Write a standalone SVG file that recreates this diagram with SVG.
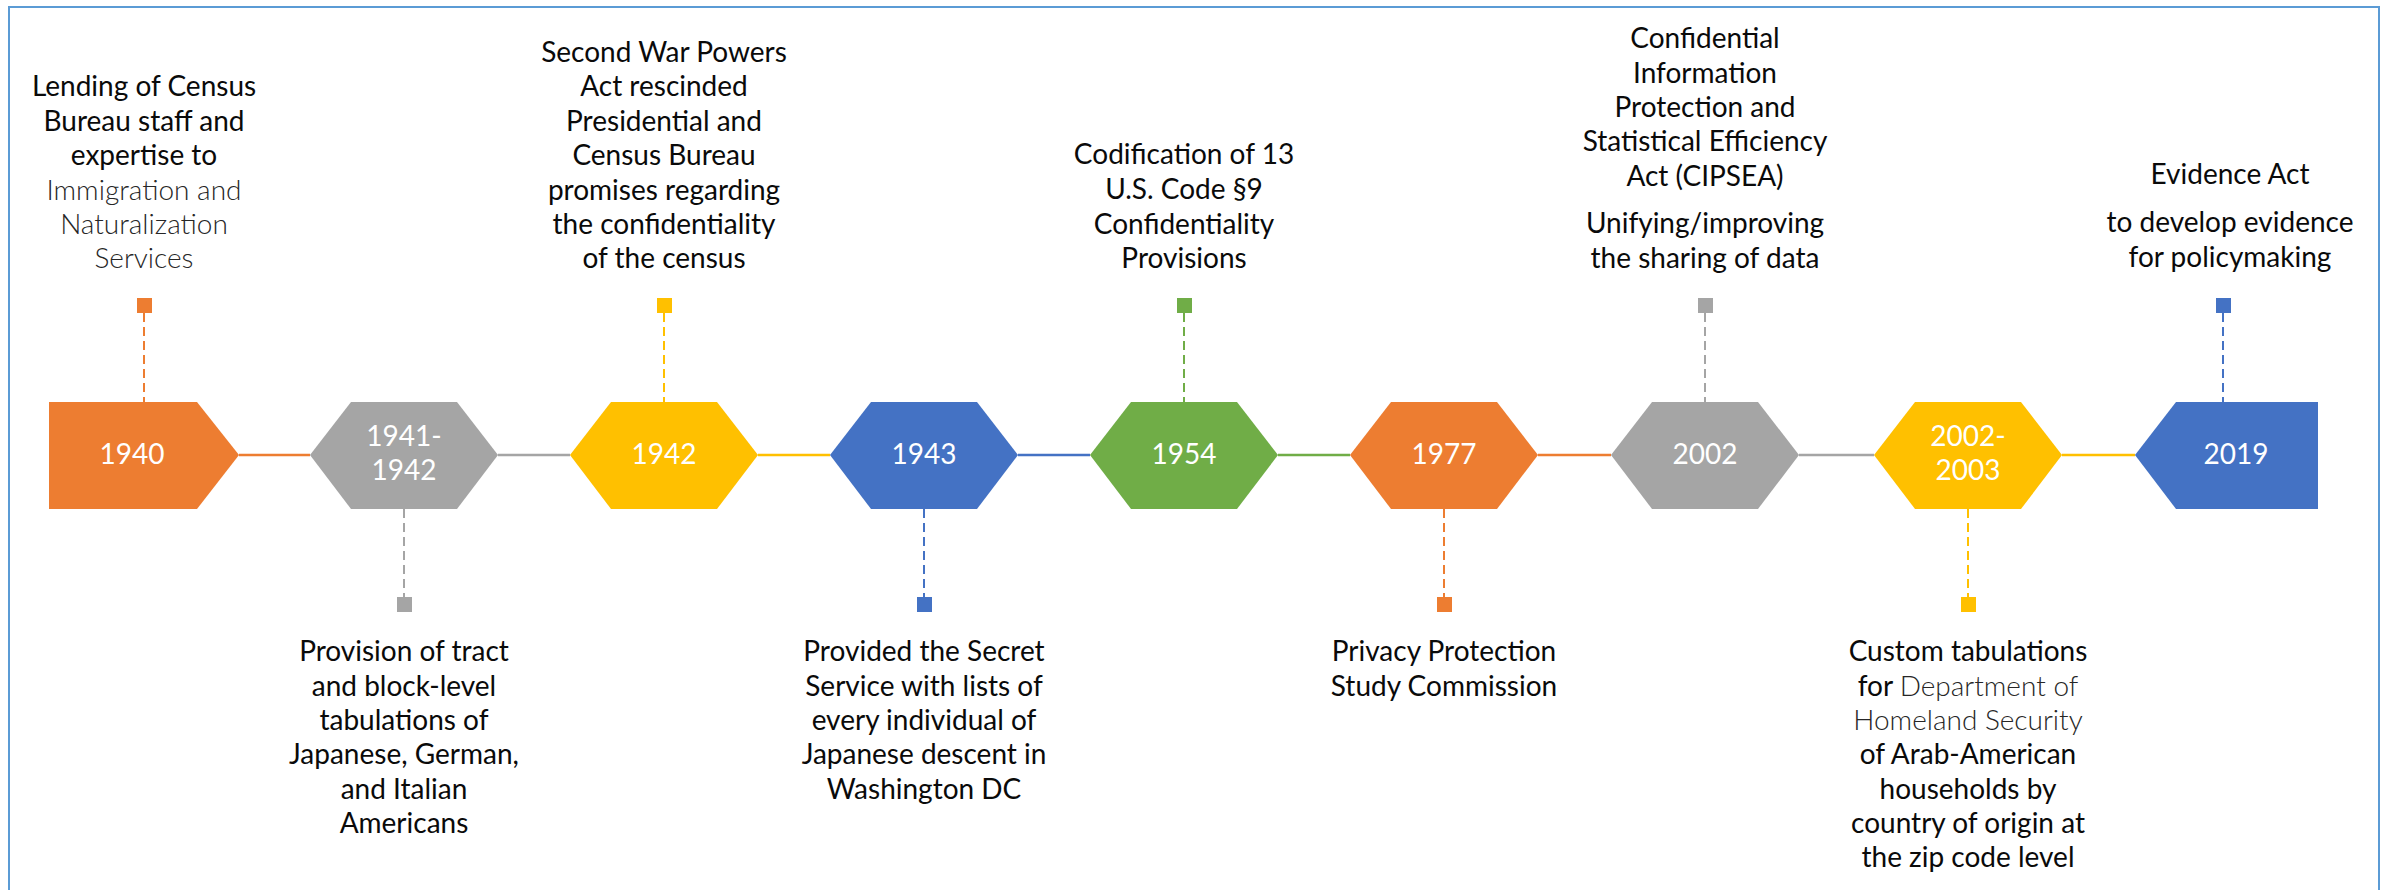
<svg xmlns="http://www.w3.org/2000/svg" width="2389" height="890" viewBox="0 0 2389 890">
<style>
.t{font-family:Lato,"Liberation Sans",sans-serif;font-size:28px;fill:#0a0a0a;text-anchor:middle}
.lt{font-weight:300;fill:#262626}
.yr{font-family:Lato,"Liberation Sans",sans-serif;font-size:28px;fill:#ffffff;text-anchor:middle}
.stem{stroke-width:2;stroke-dasharray:9 5;fill:none}
.ln{stroke-width:2.5;fill:none}
.o{fill:#ED7D31}.g{fill:#A5A5A5}.y{fill:#FFC000}.b{fill:#4472C4}.gr{fill:#70AD47}
.so{stroke:#ED7D31}.sg{stroke:#A5A5A5}.sy{stroke:#FFC000}.sb{stroke:#4472C4}.sgr{stroke:#70AD47}
</style>
<rect x="9" y="7" width="2370" height="900" fill="#ffffff" stroke="#5B9BD5" stroke-width="2"/>
<g id="connectors">
<line class="ln so" x1="239" y1="455" x2="310" y2="455"/>
<line class="ln sg" x1="498" y1="455" x2="570" y2="455"/>
<line class="ln sy" x1="758" y1="455" x2="830" y2="455"/>
<line class="ln sb" x1="1018" y1="455" x2="1090" y2="455"/>
<line class="ln sgr" x1="1278" y1="455" x2="1350" y2="455"/>
<line class="ln so" x1="1538" y1="455" x2="1611" y2="455"/>
<line class="ln sg" x1="1799" y1="455" x2="1874" y2="455"/>
<line class="ln sy" x1="2062" y1="455" x2="2135" y2="455"/>
</g>
<g id="n1940">
<line class="stem so" x1="144" y1="313" x2="144" y2="402"/>
<rect class="o" x="137" y="298" width="15" height="15"/>
<polygon class="o" points="49,402 197,402 239,455 197,509 49,509"/>
<text class="yr" x="132" y="464">1940</text>
<text class="t" x="144" y="96">Lending of Census</text>
<text class="t" x="144" y="130.5">Bureau staff and</text>
<text class="t" x="144" y="165">expertise to</text>
<text class="t lt" x="144" y="199.5">Immigration and</text>
<text class="t lt" x="144" y="234">Naturalization</text>
<text class="t lt" x="144" y="268">Services</text>
</g>
<g id="n1941">
<line class="stem sg" x1="404" y1="509" x2="404" y2="597"/>
<rect class="g" x="397" y="597" width="15" height="15"/>
<polygon class="g" points="310,455 351,402 457,402 498,455 457,509 351,509"/>
<text class="yr" x="404" y="446">1941-</text>
<text class="yr" x="404" y="480">1942</text>
<text class="t" x="404" y="661">Provision of tract</text>
<text class="t" x="404" y="695.5">and block-level</text>
<text class="t" x="404" y="730">tabulations of</text>
<text class="t" x="404" y="764">Japanese, German,</text>
<text class="t" x="404" y="798.5">and Italian</text>
<text class="t" x="404" y="833">Americans</text>
</g>
<g id="n1942">
<line class="stem sy" x1="664" y1="313" x2="664" y2="402"/>
<rect class="y" x="657" y="298" width="15" height="15"/>
<polygon class="y" points="570,455 611,402 717,402 758,455 717,509 611,509"/>
<text class="yr" x="664" y="464">1942</text>
<text class="t" x="664" y="62">Second War Powers</text>
<text class="t" x="664" y="96">Act rescinded</text>
<text class="t" x="664" y="130.5">Presidential and</text>
<text class="t" x="664" y="165">Census Bureau</text>
<text class="t" x="664" y="199.5">promises regarding</text>
<text class="t" x="664" y="234">the confidentiality</text>
<text class="t" x="664" y="268">of the census</text>
</g>
<g id="n1943">
<line class="stem sb" x1="924" y1="509" x2="924" y2="597"/>
<rect class="b" x="917" y="597" width="15" height="15"/>
<polygon class="b" points="830,455 871,402 977,402 1018,455 977,509 871,509"/>
<text class="yr" x="924" y="464">1943</text>
<text class="t" x="924" y="661">Provided the Secret</text>
<text class="t" x="924" y="695.5">Service with lists of</text>
<text class="t" x="924" y="730">every individual of</text>
<text class="t" x="924" y="764">Japanese descent in</text>
<text class="t" x="924" y="798.5">Washington DC</text>
</g>
<g id="n1954">
<line class="stem sgr" x1="1184" y1="313" x2="1184" y2="402"/>
<rect class="gr" x="1177" y="298" width="15" height="15"/>
<polygon class="gr" points="1090,455 1131,402 1237,402 1278,455 1237,509 1131,509"/>
<text class="yr" x="1184" y="464">1954</text>
<text class="t" x="1184" y="164">Codification of 13</text>
<text class="t" x="1184" y="199">U.S. Code §9</text>
<text class="t" x="1184" y="233.5">Confidentiality</text>
<text class="t" x="1184" y="268">Provisions</text>
</g>
<g id="n1977">
<line class="stem so" x1="1444" y1="509" x2="1444" y2="597"/>
<rect class="o" x="1437" y="597" width="15" height="15"/>
<polygon class="o" points="1350,455 1391,402 1497,402 1538,455 1497,509 1391,509"/>
<text class="yr" x="1444" y="464">1977</text>
<text class="t" x="1444" y="661">Privacy Protection</text>
<text class="t" x="1444" y="695.5">Study Commission</text>
</g>
<g id="n2002">
<line class="stem sg" x1="1705" y1="313" x2="1705" y2="402"/>
<rect class="g" x="1698" y="298" width="15" height="15"/>
<polygon class="g" points="1611,455 1652,402 1758,402 1799,455 1758,509 1652,509"/>
<text class="yr" x="1705" y="464">2002</text>
<text class="t" x="1705" y="48">Confidential</text>
<text class="t" x="1705" y="82.5">Information</text>
<text class="t" x="1705" y="117">Protection and</text>
<text class="t" x="1705" y="151">Statistical Efficiency</text>
<text class="t" x="1705" y="185.5">Act (CIPSEA)</text>
<text class="t" x="1705" y="233">Unifying/improving</text>
<text class="t" x="1705" y="267.5">the sharing of data</text>
</g>
<g id="n2002b">
<line class="stem sy" x1="1968" y1="509" x2="1968" y2="597"/>
<rect class="y" x="1961" y="597" width="15" height="15"/>
<polygon class="y" points="1874,455 1915,402 2021,402 2062,455 2021,509 1915,509"/>
<text class="yr" x="1968" y="446">2002-</text>
<text class="yr" x="1968" y="480">2003</text>
<text class="t" x="1968" y="661">Custom tabulations</text>
<text class="t" x="1968" y="695.5">for <tspan class="lt">Department of</tspan></text>
<text class="t lt" x="1968" y="730">Homeland Security</text>
<text class="t" x="1968" y="764">of Arab-American</text>
<text class="t" x="1968" y="798.5">households by</text>
<text class="t" x="1968" y="833">country of origin at</text>
<text class="t" x="1968" y="867">the zip code level</text>
</g>
<g id="n2019">
<line class="stem sb" x1="2223" y1="313" x2="2223" y2="402"/>
<rect class="b" x="2216" y="298" width="15" height="15"/>
<polygon class="b" points="2135,455 2176,402 2318,402 2318,509 2176,509"/>
<text class="yr" x="2236" y="464">2019</text>
<text class="t" x="2230" y="184">Evidence Act</text>
<text class="t" x="2230" y="232">to develop evidence</text>
<text class="t" x="2230" y="267">for policymaking</text>
</g>
</svg>
